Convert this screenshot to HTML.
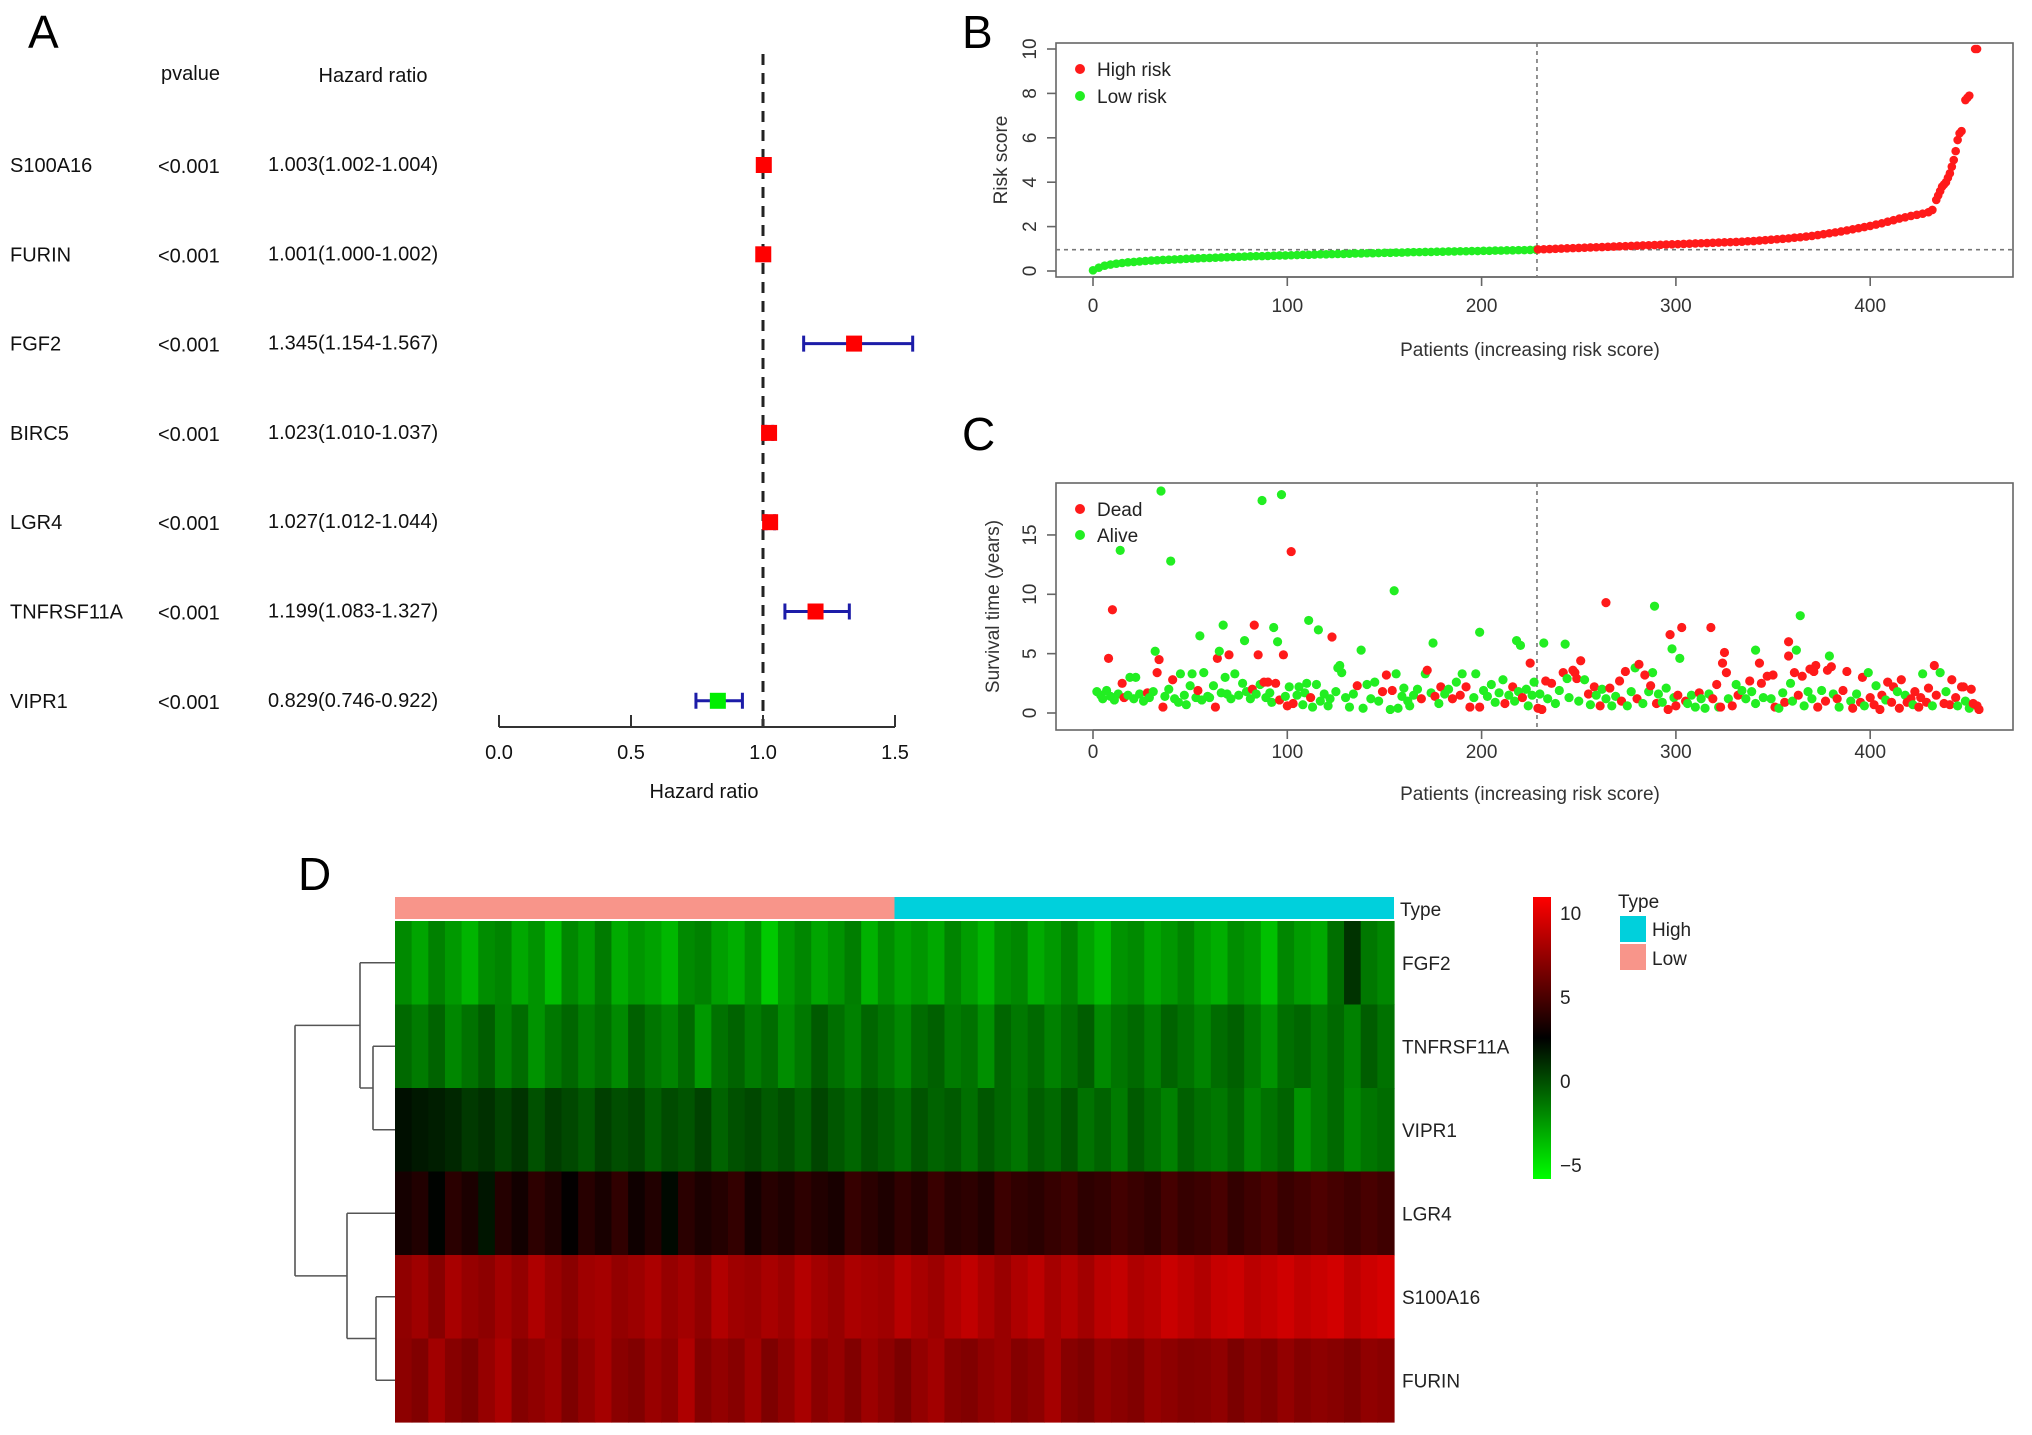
<!DOCTYPE html>
<html><head><meta charset="utf-8"><style>
html,body{margin:0;padding:0;background:#fff}
svg{display:block;font-family:"Liberation Sans",Arial,sans-serif}
</style></head><body>
<svg id="fig" xmlns="http://www.w3.org/2000/svg" width="2032" height="1435" viewBox="0 0 2032 1435">
<rect width="2032" height="1435" fill="#fff"/>
<text x="28" y="48" font-size="46">A</text>
<text x="962" y="48" font-size="46">B</text>
<text x="962" y="450" font-size="46">C</text>
<text x="298" y="890" font-size="46">D</text>
<g id="gA"></g>
<g id="gB"></g>
<g id="gC"></g>
<g id="gD"></g>
</svg>
<script>
// ---------- Panel A data ----------
const genes = ["S100A16","FURIN","FGF2","BIRC5","LGR4","TNFRSF11A","VIPR1"];
const pvals = ["<0.001","<0.001","<0.001","<0.001","<0.001","<0.001","<0.001"];
const hr = [1.003,1.001,1.345,1.023,1.027,1.199,0.829];
const hrLow = [1.002,1.000,1.154,1.010,1.012,1.083,0.746];
const hrHigh = [1.004,1.002,1.567,1.037,1.044,1.327,0.922];
const hrTicks = [0,0.5,1,1.5];
const hrTickLabels = ["0.0","0.5","1.0","1.5"];

// ---------- Panel B data ----------
const riskIdx = [0,3,6,9,12,15,18,21,24,27,30,33,36,39,42,45,48,51,54,57,60,63,66,69,72,75,78,81,84,87,90,93,96,99,102,105,108,111,114,117,120,123,126,129,132,135,138,141,144,147,150,153,156,159,162,165,168,171,174,177,180,183,186,189,192,195,198,201,204,207,210,213,216,219,222,225,228,
229,232,235,238,241,244,247,250,253,256,259,262,265,268,271,274,277,280,283,286,289,292,295,298,301,304,307,310,313,316,319,322,325,328,331,334,337,340,343,346,349,352,355,358,361,364,367,370,373,376,379,382,385,388,391,394,397,400,403,406,409,412,415,418,421,424,427,430,432,434,435,436,437,438,439,440,441,442,443,444,445,446,447,449,450,451,454,455];
const riskVal = [.03,.15,.24,.29,.33,.36,.39,.41,.43,.45,.47,.48,.50,.51,.52,.53,.55,.56,.57,.58,.59,.60,.61,.62,.63,.64,.65,.66,.67,.67,.68,.69,.70,.70,.71,.72,.73,.73,.74,.75,.75,.76,.77,.77,.78,.79,.79,.80,.80,.81,.82,.82,.83,.83,.84,.85,.85,.86,.86,.87,.87,.88,.88,.89,.89,.90,.90,.91,.91,.92,.92,.93,.93,.94,.94,.95,.96,
.97,.98,.99,1.00,1.01,1.02,1.03,1.04,1.05,1.06,1.07,1.08,1.09,1.10,1.11,1.12,1.13,1.14,1.15,1.16,1.17,1.18,1.19,1.20,1.21,1.22,1.23,1.24,1.25,1.26,1.27,1.28,1.29,1.30,1.31,1.32,1.34,1.35,1.37,1.39,1.41,1.43,1.45,1.47,1.50,1.52,1.55,1.58,1.62,1.66,1.70,1.74,1.78,1.83,1.88,1.93,1.98,2.03,2.09,2.15,2.22,2.29,2.36,2.42,2.48,2.53,2.58,2.65,2.75,3.2,3.4,3.6,3.8,3.9,4.0,4.2,4.4,4.7,5.0,5.4,5.9,6.2,6.3,7.7,7.8,7.9,10.0,10.0];
const cutoffPatient = 228.5;
const cutoffRisk = 0.96;
const patTicks = [0,100,200,300,400];
const riskTicks = [0,2,4,6,8,10];

// ---------- Panel C data ----------
const survX = [14,35,40,87,97,102,155,10,8,34,32,55,64,65,67,70,78,83,85,93,95,98,111,116,123,138,127,175,199,218,220,225,232,243,264,289,297,298,303,302,318,325,324,341,343,358,358,364,362,372,379,380,251,247,288,
2,4,5,7,9,11,13,15,16,18,19,21,22,24,26,28,29,31,33,36,37,39,41,42,44,45,47,48,50,51,53,54,56,57,59,60,62,63,66,68,69,71,73,75,77,79,81,82,84,86,88,89,90,91,92,94,96,99,100,101,103,105,106,108,109,110,112,113,115,117,119,121,122,125,126,128,130,132,134,136,139,141,143,145,147,149,151,153,154,156,157,159,160,162,163,165,167,169,171,172,174,176,178,179,181,183,185,187,189,190,192,194,196,197,199,201,203,205,207,209,211,212,214,216,217,219,221,223,224,226,227,
229,230,231,233,234,236,238,240,242,244,245,248,249,250,253,255,256,258,259,261,262,264,266,267,269,271,272,274,275,277,279,280,281,283,284,286,287,290,291,293,295,296,299,300,301,305,306,308,310,312,313,315,317,319,321,322,323,326,327,329,331,332,334,336,338,339,341,344,345,347,349,350,351,353,355,356,359,360,361,363,365,366,368,369,370,371,373,375,377,378,381,383,384,386,388,390,391,393,395,396,397,399,400,402,403,405,406,408,409,411,412,414,415,416,418,419,421,422,423,425,426,427,429,430,432,433,434,436,438,439,441,442,444,445,447,448,449,451,452,453,455,456];
const survY = [13.7,18.7,12.8,17.9,18.4,13.6,10.3,8.7,4.6,4.5,5.2,6.5,4.6,5.2,7.4,4.9,6.1,7.4,4.9,7.2,6.0,4.9,7.8,7.0,6.4,5.3,4.0,5.9,6.8,6.1,5.7,4.2,5.9,5.8,9.3,9.0,6.6,5.4,7.2,4.6,7.2,5.1,4.2,5.3,4.2,6.0,4.8,8.2,5.3,4.0,4.8,3.9,4.4,3.6,3.4,
1.8,1.5,1.2,1.9,1.4,1.1,1.6,2.5,1.3,1.5,3.0,1.2,3.0,1.6,1.0,1.7,1.3,1.8,3.4,0.5,1.4,2.0,2.8,1.2,0.9,3.3,1.5,0.7,2.3,3.3,1.3,1.9,1.1,3.4,1.4,1.3,2.3,0.5,1.7,3.0,1.6,1.2,3.3,1.5,2.5,1.8,1.2,2.0,1.6,2.4,2.6,1.3,2.6,1.7,0.9,2.5,1.1,1.4,0.6,2.2,0.8,1.5,2.2,0.7,1.7,2.5,1.3,0.5,2.4,1.0,1.6,0.6,1.2,1.8,3.8,3.4,1.3,0.5,1.6,2.3,0.4,2.4,1.2,2.6,1.0,1.8,3.2,0.3,1.9,3.3,0.4,1.4,2.1,1.0,0.6,1.5,2.0,1.2,3.3,3.6,1.7,1.4,0.8,2.2,1.6,2.0,1.2,2.6,1.5,3.3,2.2,0.5,1.3,3.3,0.5,1.9,1.4,2.4,0.9,1.7,2.8,0.8,1.5,2.2,1.0,1.8,1.3,2.0,0.6,1.5,2.6,
0.4,1.6,0.3,2.7,1.2,2.5,0.8,1.9,3.4,2.9,1.3,3.4,2.9,1.0,2.8,1.6,0.7,2.2,1.5,0.6,2.0,1.2,2.1,0.6,1.4,2.7,1.0,3.5,0.6,1.8,3.8,1.2,4.1,0.8,3.2,1.8,2.3,0.8,1.6,0.9,2.1,0.3,1.3,0.6,1.5,1.0,0.8,1.5,0.5,1.7,1.2,0.4,1.6,1.2,2.4,0.5,0.5,3.4,1.2,0.6,2.4,1.5,1.9,1.2,2.7,1.8,0.8,2.5,1.3,3.1,1.2,3.2,0.5,0.4,1.7,0.9,2.5,1.0,3.4,1.5,3.1,0.6,1.8,3.7,1.2,3.5,0.5,1.9,1.0,3.6,1.6,1.2,0.5,1.9,3.5,1.0,0.4,1.6,0.9,3.0,0.6,3.4,1.3,0.7,2.3,0.3,1.5,1.1,2.6,0.9,2.2,1.8,0.4,2.8,1.5,0.9,1.2,0.7,1.8,0.5,1.3,3.3,0.9,2.1,0.6,4.0,1.5,3.4,0.8,1.8,0.7,2.8,1.3,0.6,2.2,2.2,1.0,0.4,2.0,0.8,0.6,0.3];
const survDead = [0,0,0,0,0,1,0,1,1,1,0,0,1,0,0,1,0,1,1,0,0,1,0,0,1,0,0,0,0,0,0,1,0,0,1,0,1,0,1,0,1,1,1,0,1,1,1,0,0,1,0,1,1,1,0,
0,0,0,0,0,0,0,1,1,0,0,0,0,0,0,1,0,0,1,1,0,0,1,0,0,0,0,0,0,0,0,1,0,0,0,0,0,1,0,0,0,0,0,0,0,0,0,1,0,0,1,0,1,0,0,1,1,0,1,0,1,0,0,0,0,0,1,0,0,0,0,0,0,0,0,0,0,0,0,1,0,0,0,0,0,1,1,0,1,0,0,0,0,0,0,0,0,1,0,1,0,1,0,1,0,0,1,0,1,0,1,1,0,0,1,0,0,0,0,0,0,1,0,1,0,0,1,0,0,0,0,
1,0,1,1,0,1,0,0,1,0,0,1,1,0,0,1,0,1,0,1,0,0,1,0,0,1,1,1,0,0,0,1,1,0,1,0,1,1,0,0,0,1,0,1,1,1,0,0,0,1,0,0,0,1,1,0,1,1,0,1,0,1,0,0,1,0,0,1,0,1,0,1,1,0,0,1,0,0,1,1,1,0,0,1,0,1,1,0,1,1,0,1,0,1,1,0,1,0,1,1,0,0,1,1,0,1,1,0,1,1,1,0,1,1,0,1,1,0,1,1,1,0,1,1,0,1,1,0,1,0,1,1,1,0,1,1,0,0,1,1,1,1];
const survTicks = [0,5,10,15];

// ---------- Panel D data ----------
const hmGenes = ["FGF2","TNFRSF11A","VIPR1","LGR4","S100A16","FURIN"];
const hmFGF2 = [-2.1,-3.0,-1.8,-2.6,-3.5,-2.2,-1.9,-3.1,-2.4,-3.8,-2.0,-2.7,-1.6,-3.2,-2.5,-2.9,-3.6,-2.1,-1.8,-2.8,-3.3,-2.3,-4.2,-2.6,-2.0,-3.0,-2.4,-1.7,-3.4,-2.2,-2.9,-2.5,-3.1,-1.9,-2.7,-3.5,-2.3,-2.0,-3.2,-2.6,-1.8,-2.9,-3.7,-2.4,-2.1,-3.0,-2.5,-1.9,-2.8,-3.3,-2.2,-2.6,-3.9,-2.0,-2.7,-3.1,-1.2,0.8,-1.5,-2.0];
const hmTNFRSF11A = [-1.0,-1.6,-0.8,-2.0,-1.3,-0.6,-1.8,-1.1,-2.4,-1.5,-0.9,-1.7,-1.2,-2.1,-0.7,-1.4,-1.9,-1.0,-2.6,-1.3,-0.8,-1.6,-1.1,-2.2,-1.5,-0.5,-1.2,-1.8,-0.9,-1.4,-2.0,-1.1,-0.7,-1.6,-1.3,-2.3,-0.9,-1.5,-1.0,-1.8,-1.2,-0.6,-2.1,-1.4,-1.0,-1.7,-0.8,-1.3,-1.9,-1.1,-0.7,-1.5,-2.4,-1.2,-0.9,-1.6,-1.0,-1.8,-0.6,-1.3];
const hmVIPR1 = [2.0,1.7,1.5,1.2,0.6,0.9,0.3,0.8,-0.2,0.5,0.1,-0.4,0.4,-0.1,0.2,-0.6,0.0,-0.3,0.3,-0.8,-0.2,0.1,-0.5,-0.1,-0.7,0.2,-0.4,-0.9,-0.2,-0.6,-1.1,-0.3,-0.8,-0.5,-1.2,-0.4,-0.9,-1.4,-0.6,-1.0,-0.3,-1.3,-0.8,-1.6,-0.5,-1.1,-1.8,-0.7,-1.2,-1.5,-0.9,-1.9,-1.3,-0.8,-2.4,-1.6,-1.0,-2.0,-1.4,-1.1];
const hmLGR4 = [3.2,3.6,2.4,3.9,3.4,1.8,3.7,3.1,4.0,3.5,2.6,3.8,3.3,4.1,3.0,3.6,2.2,3.9,3.4,3.7,4.2,3.2,3.8,3.5,4.0,3.6,3.3,4.3,3.9,3.5,4.1,3.7,4.4,3.8,4.0,3.6,4.5,4.1,3.9,4.3,4.6,4.0,4.2,4.7,4.4,4.1,4.8,4.3,4.5,4.9,4.2,4.6,5.0,4.4,4.7,5.1,4.8,4.5,4.9,4.6];
const hmS100A16 = [7.3,7.8,7.0,8.1,7.5,7.2,7.9,7.4,8.3,7.6,7.1,7.8,8.0,7.4,7.7,8.2,7.5,7.9,7.3,8.4,7.8,7.6,8.1,7.7,8.5,7.9,7.5,8.2,8.0,7.8,8.6,8.1,7.7,8.4,8.9,8.2,7.6,8.3,8.8,8.0,8.5,7.9,8.7,9.0,8.3,8.6,9.2,8.8,8.4,9.1,9.3,8.7,9.0,9.4,8.9,9.2,9.5,8.8,9.3,9.6];
const hmFURIN = [7.2,6.8,7.9,7.0,6.6,7.5,8.2,6.9,7.3,7.7,6.7,7.4,8.0,7.1,6.8,7.6,7.2,8.3,6.9,7.4,7.0,7.8,6.7,7.3,8.1,7.1,7.5,6.8,7.7,7.2,6.6,7.4,7.9,7.0,6.8,7.3,7.6,6.9,7.2,8.0,7.0,6.7,7.4,7.1,6.8,7.5,7.2,6.9,7.0,7.3,6.6,7.1,6.8,7.4,6.9,7.2,7.0,6.7,7.3,7.1];
const hmLowCount = 30; // number of low-risk columns out of 60
const cbTicks = [10,5,0,-5];

const NS = "http://www.w3.org/2000/svg";
function mk(parent, tag, attrs, txt){
  const e = document.createElementNS(NS, tag);
  for (const k in attrs) e.setAttribute(k, attrs[k]);
  if (txt !== undefined) e.textContent = txt;
  parent.appendChild(e);
  return e;
}

// ================= Panel A =================
(function(){
  const g = document.getElementById('gA');
  const xHR = v => 499 + v * 264;
  const rowY = i => 165 + i * 89.3;
  let t;
  t = mk(g,'text',{x:161,y:80,'font-size':20,fill:'#111'},'pvalue');
   
  t = mk(g,'text',{x:373,y:82,'font-size':20,fill:'#111','text-anchor':'middle'},'Hazard ratio');
   
  let l = mk(g,'line',{x1:xHR(1),x2:xHR(1),y1:54,y2:727,stroke:'#222','stroke-width':3,'stroke-dasharray':'11,8'});
   
  for (let i=0;i<genes.length;i++){
    const y = rowY(i);
    t = mk(g,'text',{x:10,y:y+7,'font-size':20,fill:'#111'},genes[i]);
     
    t = mk(g,'text',{x:158,y:y+8,'font-size':20,fill:'#111'},pvals[i]);
     
    t = mk(g,'text',{x:268,y:y+6,'font-size':20,fill:'#111'},hr[i].toFixed(3)+'('+hrLow[i].toFixed(3)+'-'+hrHigh[i].toFixed(3)+')');
     
    const ci = mk(g,'path',{d:`M${xHR(hrLow[i])},${y-8}V${y+8}M${xHR(hrLow[i])},${y}H${xHR(hrHigh[i])}M${xHR(hrHigh[i])},${y-8}V${y+8}`,stroke:'#1c1ca8','stroke-width':3,fill:'none'});
     
    const sq = mk(g,'rect',{x:xHR(hr[i])-8,y:y-8,width:16,height:16,fill:hr[i]>1?'#ff0000':'#00ee00'});
     
  }
  l = mk(g,'line',{x1:xHR(hrTicks[0]),x2:xHR(hrTicks[hrTicks.length-1]),y1:727,y2:727,stroke:'#333','stroke-width':2});
   
  hrTicks.forEach((v,k)=>{
    mk(g,'line',{x1:xHR(v),x2:xHR(v),y1:715,y2:727,stroke:'#333','stroke-width':2});
    t = mk(g,'text',{x:xHR(v),y:759,'font-size':20,fill:'#111','text-anchor':'middle'},hrTickLabels[k]);
     
  });
  t = mk(g,'text',{x:704,y:798,'font-size':20,fill:'#111','text-anchor':'middle'},'Hazard ratio');
   
})();

const xPat = p => 1093 + p * 1.943;

function frame(g, top, bottom, ticksY, yFn, ylabel, ylabelX, tickLabelY, xlabelY){
  let r = mk(g,'rect',{x:1056,y:top,width:957,height:bottom-top,fill:'none',stroke:'#666','stroke-width':1.6});
   
  mk(g,'line',{x1:xPat(patTicks[0]),x2:xPat(patTicks[patTicks.length-1]),y1:bottom,y2:bottom,stroke:'#666','stroke-width':1.6});
  patTicks.forEach(v=>{
    mk(g,'line',{x1:xPat(v),x2:xPat(v),y1:bottom,y2:bottom+9,stroke:'#666','stroke-width':1.6});
    const t = mk(g,'text',{x:xPat(v),y:tickLabelY,'font-size':19,fill:'#333','text-anchor':'middle'},String(v));
     
  });
  ticksY.forEach(v=>{
    const y=yFn(v);
    mk(g,'line',{x1:1056,x2:1047,y1:y,y2:y,stroke:'#666','stroke-width':1.6});
    const t = mk(g,'text',{x:1036,y:y,'font-size':19,fill:'#333','text-anchor':'middle',transform:`rotate(-90 1036 ${y})`},String(v));
     
  });
  let t = mk(g,'text',{x:1530,y:xlabelY,'font-size':19,fill:'#333','text-anchor':'middle'},'Patients (increasing risk score)');
   
  const cy=(top+bottom)/2;
  t = mk(g,'text',{x:ylabelX,y:cy,'font-size':19,fill:'#333','text-anchor':'middle',transform:`rotate(-90 ${ylabelX} ${cy})`},ylabel);
   
}

// ================= Panel B =================
(function(){
  const g = document.getElementById('gB');
  const yR = v => 271 - v * 22.2;
  frame(g,43,277,riskTicks,yR,'Risk score',1007,312,356);
  let l = mk(g,'line',{x1:xPat(cutoffPatient),x2:xPat(cutoffPatient),y1:43,y2:277,stroke:'#777','stroke-width':1.6,'stroke-dasharray':'4,4'});
   
  l = mk(g,'line',{x1:1056,x2:2013,y1:yR(cutoffRisk),y2:yR(cutoffRisk),stroke:'#777','stroke-width':1.6,'stroke-dasharray':'4,4'});
   
  for (let i=0;i<riskIdx.length;i++){
    const c = mk(g,'circle',{cx:xPat(riskIdx[i]),cy:yR(riskVal[i]),r:4.3,fill:riskIdx[i]>cutoffPatient?'#ff1a1a':'#22ee22'});
     
  }
  let c = mk(g,'circle',{cx:1080,cy:69,r:5,fill:'#ff1a1a'});  
  let t = mk(g,'text',{x:1097,y:76,'font-size':19,fill:'#222'},'High risk');  
  c = mk(g,'circle',{cx:1080,cy:96,r:5,fill:'#22ee22'});  
  t = mk(g,'text',{x:1097,y:103,'font-size':19,fill:'#222'},'Low risk');  
})();

// ================= Panel C =================
(function(){
  const g = document.getElementById('gC');
  const yS = v => 713 - v * 11.87;
  frame(g,483,730,survTicks,yS,'Survival time (years)',999,758,800);
  let l = mk(g,'line',{x1:xPat(cutoffPatient),x2:xPat(cutoffPatient),y1:483,y2:730,stroke:'#777','stroke-width':1.6,'stroke-dasharray':'4,4'});
   
  for (let i=0;i<survX.length;i++){
    const c = mk(g,'circle',{cx:xPat(survX[i]),cy:yS(survY[i]),r:4.6,fill:survDead[i]?'#ff1a1a':'#22ee22'});
     
  }
  let c = mk(g,'circle',{cx:1080,cy:509,r:5,fill:'#ff1a1a'});  
  let t = mk(g,'text',{x:1097,y:516,'font-size':19,fill:'#222'},'Dead');  
  c = mk(g,'circle',{cx:1080,cy:535,r:5,fill:'#22ee22'});  
  t = mk(g,'text',{x:1097,y:542,'font-size':19,fill:'#222'},'Alive');  
})();

// ================= Panel D =================
(function(){
  const g = document.getElementById('gD');
  const rows = [hmFGF2,hmTNFRSF11A,hmVIPR1,hmLGR4,hmS100A16,hmFURIN];
  const X0=395, X1=1394, Y0=921, RH=83.5;
  const vmin=-6, vmid=2.5, vmax=11;
  function col(v){
    if (v>=vmid){ const t=Math.min(1,(v-vmid)/(vmax-vmid)); return `rgb(${Math.round(255*t)},0,0)`; }
    const t=Math.min(1,(vmid-v)/(vmid-vmin)); return `rgb(0,${Math.round(255*t)},0)`;
  }
  const n = rows[0].length, cw=(X1-X0)/n;
  let r = mk(g,'rect',{x:X0,y:897,width:hmLowCount*cw,height:22,fill:'#f8958a'});
   
  r = mk(g,'rect',{x:X0+hmLowCount*cw,y:897,width:(n-hmLowCount)*cw,height:22,fill:'#00d0dc'});
   
  let t = mk(g,'text',{x:1400,y:916,'font-size':19,fill:'#222'},'Type');  
  rows.forEach((row,i)=>{
    row.forEach((v,j)=>{
      const c = mk(g,'rect',{x:X0+j*cw,y:Y0+i*RH,width:cw+0.6,height:RH+0.6,fill:col(v)});
       
    });
    const tl = mk(g,'text',{x:1402,y:Y0+i*RH+RH/2+7,'font-size':19,fill:'#222'},hmGenes[i]);
     
  });
  const yc = i => Y0 + i*RH + RH/2;
  const a = (yc(1)+yc(2))/2, b=(yc(4)+yc(5))/2;
  const top=(yc(0)+a)/2, bot=(yc(3)+b)/2;
  const d = `M395,${yc(0)}H360M395,${yc(1)}H373M395,${yc(2)}H373M373,${yc(1)}V${yc(2)}M373,${a}H360M360,${yc(0)}V${a}
M395,${yc(3)}H347M395,${yc(4)}H376M395,${yc(5)}H376M376,${yc(4)}V${yc(5)}M376,${b}H347M347,${yc(3)}V${b}
M360,${top}H295M347,${bot}H295M295,${top}V${bot}`;
  const dp = mk(g,'path',{d:d,stroke:'#555','stroke-width':1.6,fill:'none'});
   
  const defs = mk(g,'defs',{});
  const lg = mk(defs,'linearGradient',{id:'cbg',x1:0,y1:0,x2:0,y2:1});
  mk(lg,'stop',{offset:'0','stop-color':'#ff0000'});
  mk(lg,'stop',{offset:'0.5','stop-color':'#000000'});
  mk(lg,'stop',{offset:'1','stop-color':'#00ff00'});
  r = mk(g,'rect',{x:1533,y:897,width:18,height:282,fill:'url(#cbg)'});
   
  cbTicks.forEach(v=>{
    const tt = mk(g,'text',{x:1560,y:1081-v*16.8+7,'font-size':19,fill:'#222'},v<0?'\u2212'+(-v):String(v));
     
  });
  t = mk(g,'text',{x:1618,y:908,'font-size':19,fill:'#222'},'Type');  
  r = mk(g,'rect',{x:1620,y:916,width:26,height:26,fill:'#00d0dc'});  
  r = mk(g,'rect',{x:1620,y:944,width:26,height:26,fill:'#f8958a'});  
  t = mk(g,'text',{x:1652,y:936,'font-size':19,fill:'#222'},'High');  
  t = mk(g,'text',{x:1652,y:965,'font-size':19,fill:'#222'},'Low');  
})();
</script>
</body></html>
